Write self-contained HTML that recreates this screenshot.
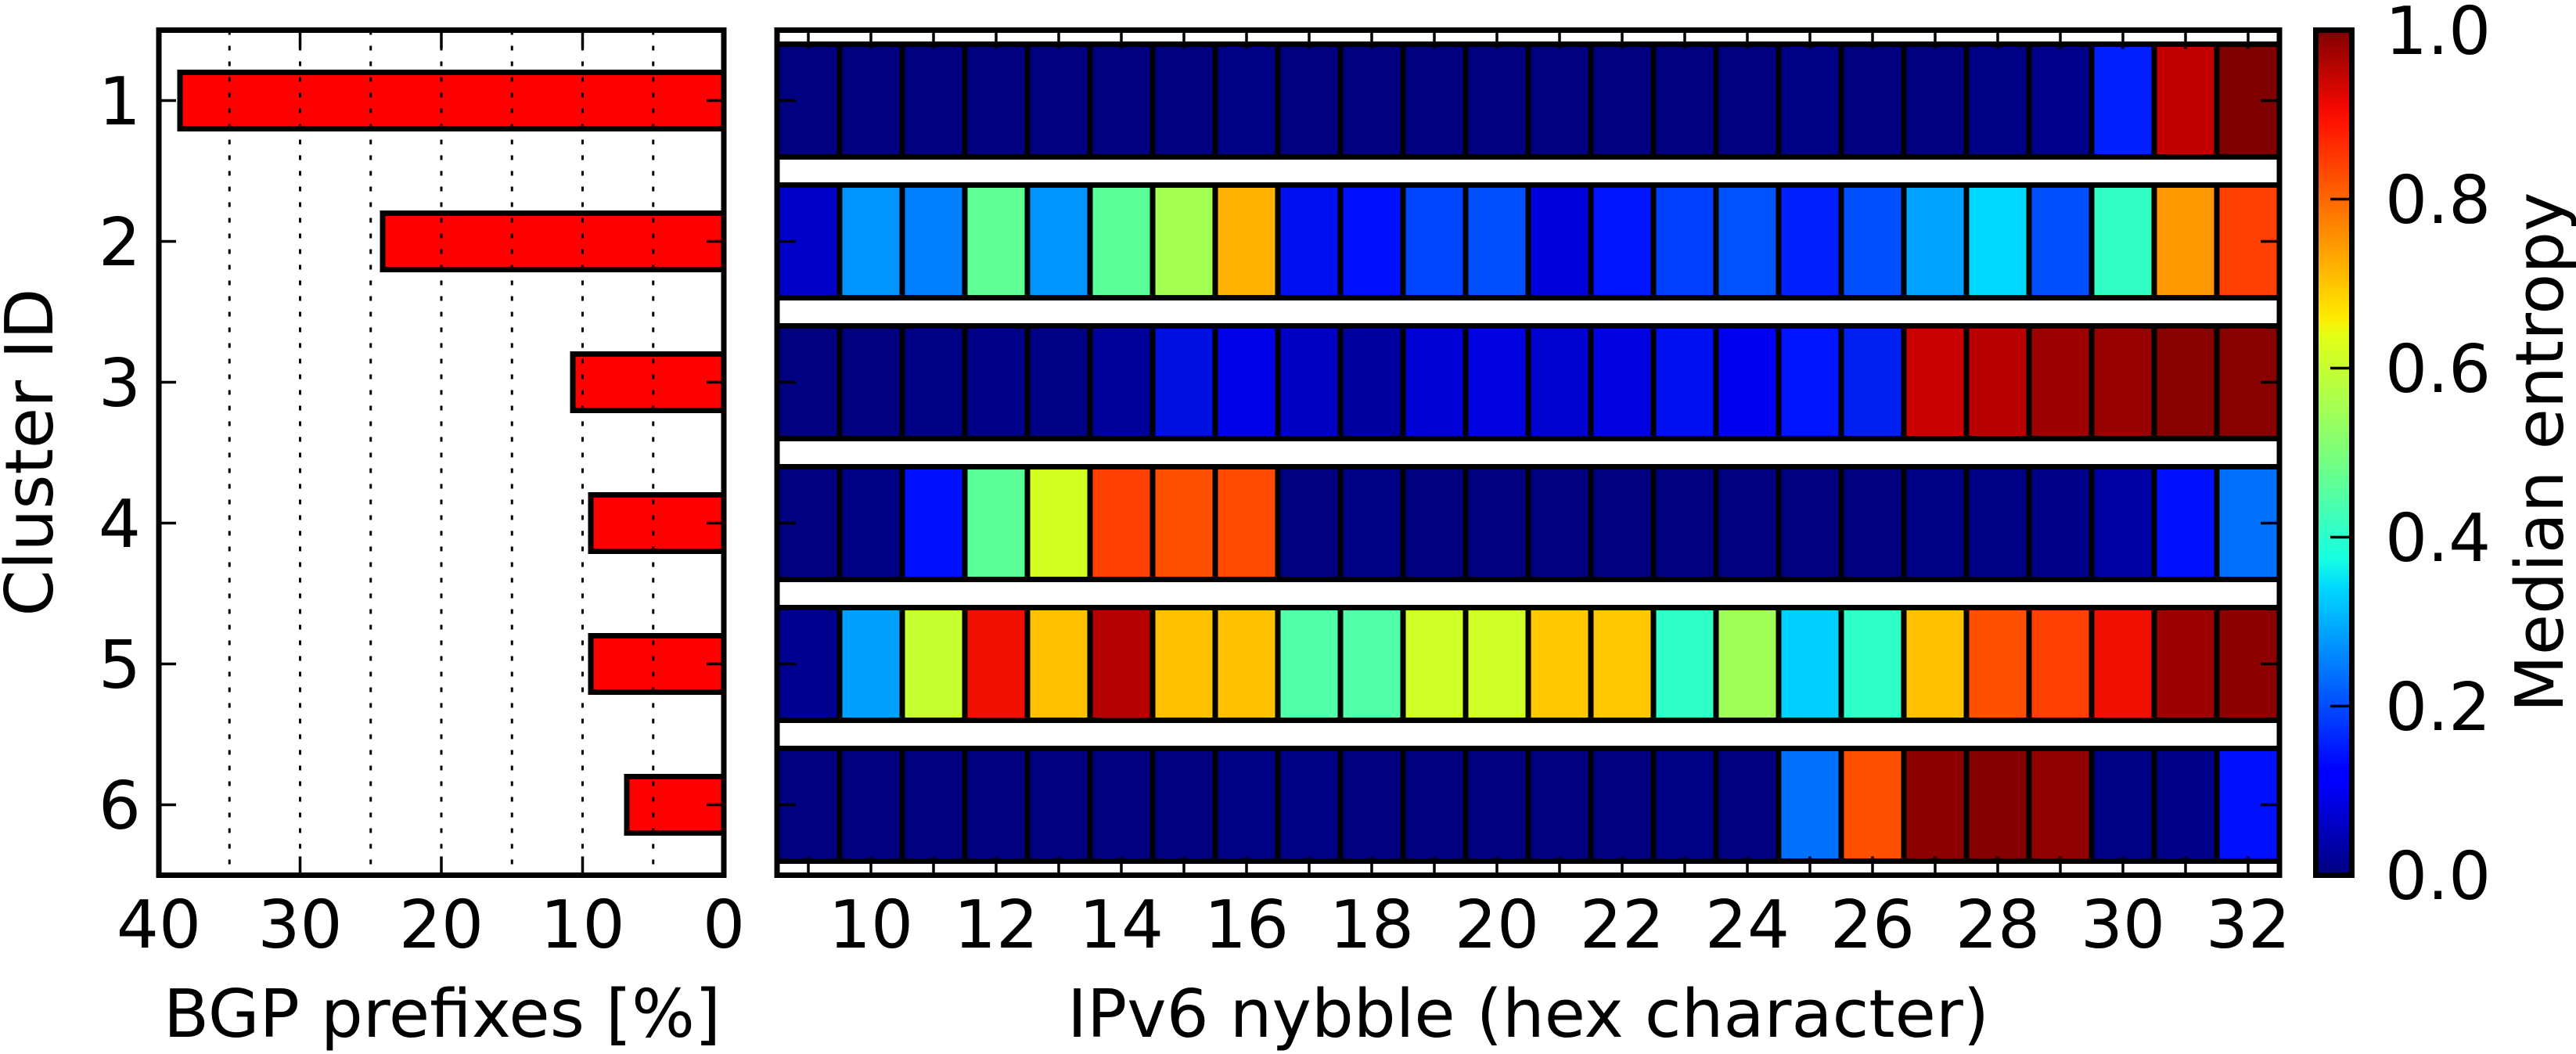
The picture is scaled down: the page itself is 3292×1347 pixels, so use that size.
<!DOCTYPE html>
<html><head><meta charset="utf-8"><style>html,body{margin:0;padding:0;background:#fff}svg{display:block}text{font-family:"DejaVu Sans","Liberation Sans",sans-serif;font-size:85px;fill:#000}</style></head><body>
<svg width="3292" height="1347" viewBox="0 0 3292 1347" xmlns="http://www.w3.org/2000/svg">
<defs>
<linearGradient id="jet" x1="0" y1="1" x2="0" y2="0">
<stop offset="0" stop-color="#00007f"/><stop offset="0.11" stop-color="#0000ff"/><stop offset="0.125" stop-color="#0000ff"/><stop offset="0.34" stop-color="#00d8ff"/><stop offset="0.375" stop-color="#16ffe1"/><stop offset="0.5" stop-color="#7dff7a"/><stop offset="0.64" stop-color="#e4ff13"/><stop offset="0.66" stop-color="#ffea00"/><stop offset="0.89" stop-color="#ff1300"/><stop offset="0.91" stop-color="#f10800"/><stop offset="1" stop-color="#7f0000"/>
</linearGradient>
</defs>
<g stroke="#000" stroke-width="7" fill="#ff0000">
<rect x="230" y="92.5" width="695" height="72"/>
<rect x="489" y="272.5" width="436" height="72"/>
<rect x="732" y="452.5" width="193" height="72"/>
<rect x="755" y="632.5" width="170" height="72"/>
<rect x="755" y="812.5" width="170" height="72"/>
<rect x="801" y="992.5" width="124" height="72"/>
</g>
<g stroke="#000" stroke-width="3" stroke-dasharray="6 14">
<line x1="834.75" y1="38.5" x2="834.75" y2="1118.5"/><line x1="744.5" y1="38.5" x2="744.5" y2="1118.5"/><line x1="654.25" y1="38.5" x2="654.25" y2="1118.5"/><line x1="564" y1="38.5" x2="564" y2="1118.5"/><line x1="473.75" y1="38.5" x2="473.75" y2="1118.5"/><line x1="383.5" y1="38.5" x2="383.5" y2="1118.5"/><line x1="293.25" y1="38.5" x2="293.25" y2="1118.5"/>
</g>
<g stroke="#000" stroke-width="3.5">
<path d="M203 128.5h22M203 308.5h22M203 488.5h22M203 668.5h22M203 848.5h22M203 1028.5h22M925 128.5h-22M925 308.5h-22M925 488.5h-22M925 668.5h-22M925 848.5h-22M925 1028.5h-22"/>
<path d="M383.5 38.5v24M564 38.5v24M744.5 38.5v24M383.5 1118.5v-24M564 1118.5v-24M744.5 1118.5v-24"/>
</g>
<rect x="203" y="38.5" width="722" height="1080" fill="none" stroke="#000" stroke-width="7"/>
<g text-anchor="end">
<text x="180" y="159">1</text><text x="180" y="339">2</text><text x="180" y="519">3</text><text x="180" y="699">4</text><text x="180" y="879">5</text><text x="180" y="1059">6</text>
</g>
<g text-anchor="middle">
<text x="203" y="1211">40</text><text x="383.5" y="1211">30</text><text x="564" y="1211">20</text><text x="744.5" y="1211">10</text><text x="925" y="1211">0</text>
<text x="565" y="1325">BGP prefixes [%]</text>
<text transform="translate(67,578) rotate(-90)">Cluster ID</text>
</g>
<g stroke="#000" stroke-width="7">
<g transform="translate(0,56.5)">
<rect x="993" width="80" height="144" fill="#000080"/><rect x="1073" width="80" height="144" fill="#000080"/><rect x="1153" width="80" height="144" fill="#000080"/><rect x="1233" width="80" height="144" fill="#000080"/><rect x="1313" width="80" height="144" fill="#000080"/><rect x="1393" width="80" height="144" fill="#000080"/><rect x="1473" width="80" height="144" fill="#000080"/><rect x="1553" width="80" height="144" fill="#000084"/><rect x="1633" width="80" height="144" fill="#000080"/><rect x="1713" width="80" height="144" fill="#000080"/><rect x="1793" width="80" height="144" fill="#000080"/><rect x="1873" width="80" height="144" fill="#000080"/><rect x="1953" width="80" height="144" fill="#000080"/><rect x="2033" width="80" height="144" fill="#000080"/><rect x="2113" width="80" height="144" fill="#000080"/><rect x="2193" width="80" height="144" fill="#000080"/><rect x="2273" width="80" height="144" fill="#000084"/><rect x="2353" width="80" height="144" fill="#000080"/><rect x="2433" width="80" height="144" fill="#000080"/><rect x="2513" width="80" height="144" fill="#000084"/><rect x="2593" width="80" height="144" fill="#00008a"/><rect x="2673" width="80" height="144" fill="#0020ff"/><rect x="2753" width="80" height="144" fill="#c00000"/><rect x="2833" width="80" height="144" fill="#800000"/>
</g>
<g transform="translate(0,236.5)">
<rect x="993" width="80" height="144" fill="#0000c8"/><rect x="1073" width="80" height="144" fill="#0094ff"/><rect x="1153" width="80" height="144" fill="#0080ff"/><rect x="1233" width="80" height="144" fill="#60ff96"/><rect x="1313" width="80" height="144" fill="#0094ff"/><rect x="1393" width="80" height="144" fill="#5aff9a"/><rect x="1473" width="80" height="144" fill="#a4ff53"/><rect x="1553" width="80" height="144" fill="#ffb000"/><rect x="1633" width="80" height="144" fill="#0010f0"/><rect x="1713" width="80" height="144" fill="#0010ff"/><rect x="1793" width="80" height="144" fill="#0044ff"/><rect x="1873" width="80" height="144" fill="#0050ff"/><rect x="1953" width="80" height="144" fill="#0000dd"/><rect x="2033" width="80" height="144" fill="#0014ff"/><rect x="2113" width="80" height="144" fill="#0040ff"/><rect x="2193" width="80" height="144" fill="#0054ff"/><rect x="2273" width="80" height="144" fill="#0020ff"/><rect x="2353" width="80" height="144" fill="#0050ff"/><rect x="2433" width="80" height="144" fill="#00a4ff"/><rect x="2513" width="80" height="144" fill="#00d8ff"/><rect x="2593" width="80" height="144" fill="#0050ff"/><rect x="2673" width="80" height="144" fill="#33ffc4"/><rect x="2753" width="80" height="144" fill="#ff9800"/><rect x="2833" width="80" height="144" fill="#ff4000"/>
</g>
<g transform="translate(0,416.5)">
<rect x="993" width="80" height="144" fill="#000080"/><rect x="1073" width="80" height="144" fill="#000080"/><rect x="1153" width="80" height="144" fill="#000084"/><rect x="1233" width="80" height="144" fill="#000088"/><rect x="1313" width="80" height="144" fill="#000084"/><rect x="1393" width="80" height="144" fill="#00009a"/><rect x="1473" width="80" height="144" fill="#0010e0"/><rect x="1553" width="80" height="144" fill="#0000e8"/><rect x="1633" width="80" height="144" fill="#0000c4"/><rect x="1713" width="80" height="144" fill="#0000a0"/><rect x="1793" width="80" height="144" fill="#0000d4"/><rect x="1873" width="80" height="144" fill="#0000e0"/><rect x="1953" width="80" height="144" fill="#0000d0"/><rect x="2033" width="80" height="144" fill="#0000e0"/><rect x="2113" width="80" height="144" fill="#0010f0"/><rect x="2193" width="80" height="144" fill="#0000f0"/><rect x="2273" width="80" height="144" fill="#0014ff"/><rect x="2353" width="80" height="144" fill="#0020f0"/><rect x="2433" width="80" height="144" fill="#c80000"/><rect x="2513" width="80" height="144" fill="#b80000"/><rect x="2593" width="80" height="144" fill="#9c0000"/><rect x="2673" width="80" height="144" fill="#960000"/><rect x="2753" width="80" height="144" fill="#880000"/><rect x="2833" width="80" height="144" fill="#880000"/>
</g>
<g transform="translate(0,596.5)">
<rect x="993" width="80" height="144" fill="#000080"/><rect x="1073" width="80" height="144" fill="#000084"/><rect x="1153" width="80" height="144" fill="#0010ff"/><rect x="1233" width="80" height="144" fill="#5aff9a"/><rect x="1313" width="80" height="144" fill="#d4ff22"/><rect x="1393" width="80" height="144" fill="#ff4000"/><rect x="1473" width="80" height="144" fill="#ff5000"/><rect x="1553" width="80" height="144" fill="#ff4a00"/><rect x="1633" width="80" height="144" fill="#000080"/><rect x="1713" width="80" height="144" fill="#000084"/><rect x="1793" width="80" height="144" fill="#000080"/><rect x="1873" width="80" height="144" fill="#000080"/><rect x="1953" width="80" height="144" fill="#000080"/><rect x="2033" width="80" height="144" fill="#000080"/><rect x="2113" width="80" height="144" fill="#000080"/><rect x="2193" width="80" height="144" fill="#000080"/><rect x="2273" width="80" height="144" fill="#000080"/><rect x="2353" width="80" height="144" fill="#000080"/><rect x="2433" width="80" height="144" fill="#000084"/><rect x="2513" width="80" height="144" fill="#000084"/><rect x="2593" width="80" height="144" fill="#000088"/><rect x="2673" width="80" height="144" fill="#0000a4"/><rect x="2753" width="80" height="144" fill="#0010ff"/><rect x="2833" width="80" height="144" fill="#0070ff"/>
</g>
<g transform="translate(0,776.5)">
<rect x="993" width="80" height="144" fill="#000090"/><rect x="1073" width="80" height="144" fill="#00a0ff"/><rect x="1153" width="80" height="144" fill="#c8ff30"/><rect x="1233" width="80" height="144" fill="#f01000"/><rect x="1313" width="80" height="144" fill="#ffc000"/><rect x="1393" width="80" height="144" fill="#b40000"/><rect x="1473" width="80" height="144" fill="#ffc000"/><rect x="1553" width="80" height="144" fill="#ffc000"/><rect x="1633" width="80" height="144" fill="#50ffa8"/><rect x="1713" width="80" height="144" fill="#50ffa8"/><rect x="1793" width="80" height="144" fill="#d0ff28"/><rect x="1873" width="80" height="144" fill="#d0ff28"/><rect x="1953" width="80" height="144" fill="#ffc800"/><rect x="2033" width="80" height="144" fill="#ffc800"/><rect x="2113" width="80" height="144" fill="#30ffc8"/><rect x="2193" width="80" height="144" fill="#a0ff56"/><rect x="2273" width="80" height="144" fill="#00d0ff"/><rect x="2353" width="80" height="144" fill="#30ffc8"/><rect x="2433" width="80" height="144" fill="#ffc000"/><rect x="2513" width="80" height="144" fill="#ff5000"/><rect x="2593" width="80" height="144" fill="#ff4000"/><rect x="2673" width="80" height="144" fill="#f01000"/><rect x="2753" width="80" height="144" fill="#9c0000"/><rect x="2833" width="80" height="144" fill="#8c0000"/>
</g>
<g transform="translate(0,956.5)">
<rect x="993" width="80" height="144" fill="#000080"/><rect x="1073" width="80" height="144" fill="#000080"/><rect x="1153" width="80" height="144" fill="#000080"/><rect x="1233" width="80" height="144" fill="#000080"/><rect x="1313" width="80" height="144" fill="#000080"/><rect x="1393" width="80" height="144" fill="#000080"/><rect x="1473" width="80" height="144" fill="#000080"/><rect x="1553" width="80" height="144" fill="#000084"/><rect x="1633" width="80" height="144" fill="#000084"/><rect x="1713" width="80" height="144" fill="#000080"/><rect x="1793" width="80" height="144" fill="#000080"/><rect x="1873" width="80" height="144" fill="#000080"/><rect x="1953" width="80" height="144" fill="#000080"/><rect x="2033" width="80" height="144" fill="#000080"/><rect x="2113" width="80" height="144" fill="#000084"/><rect x="2193" width="80" height="144" fill="#000080"/><rect x="2273" width="80" height="144" fill="#0070ff"/><rect x="2353" width="80" height="144" fill="#ff5000"/><rect x="2433" width="80" height="144" fill="#8c0000"/><rect x="2513" width="80" height="144" fill="#840000"/><rect x="2593" width="80" height="144" fill="#900000"/><rect x="2673" width="80" height="144" fill="#000084"/><rect x="2753" width="80" height="144" fill="#000088"/><rect x="2833" width="80" height="144" fill="#0010ff"/>
</g>
</g>
<g stroke="#000" stroke-width="3.5">
<path d="M1033 38.5v24M1113 38.5v24M1193 38.5v24M1273 38.5v24M1353 38.5v24M1433 38.5v24M1513 38.5v24M1593 38.5v24M1673 38.5v24M1753 38.5v24M1833 38.5v24M1913 38.5v24M1993 38.5v24M2073 38.5v24M2153 38.5v24M2233 38.5v24M2313 38.5v24M2393 38.5v24M2473 38.5v24M2553 38.5v24M2633 38.5v24M2713 38.5v24M2793 38.5v24M2873 38.5v24"/>
<path d="M1033 1118.5v-24M1113 1118.5v-24M1193 1118.5v-24M1273 1118.5v-24M1353 1118.5v-24M1433 1118.5v-24M1513 1118.5v-24M1593 1118.5v-24M1673 1118.5v-24M1753 1118.5v-24M1833 1118.5v-24M1913 1118.5v-24M1993 1118.5v-24M2073 1118.5v-24M2153 1118.5v-24M2233 1118.5v-24M2313 1118.5v-24M2393 1118.5v-24M2473 1118.5v-24M2553 1118.5v-24M2633 1118.5v-24M2713 1118.5v-24M2793 1118.5v-24M2873 1118.5v-24"/>
<path d="M993 128.5h24M993 308.5h24M993 488.5h24M993 668.5h24M993 848.5h24M993 1028.5h24M2913 128.5h-24M2913 308.5h-24M2913 488.5h-24M2913 668.5h-24M2913 848.5h-24M2913 1028.5h-24"/>
</g>
<rect x="993" y="38.5" width="1920" height="1080" fill="none" stroke="#000" stroke-width="7"/>
<g text-anchor="middle">
<text x="1113" y="1211">10</text><text x="1273" y="1211">12</text><text x="1433" y="1211">14</text><text x="1593" y="1211">16</text><text x="1753" y="1211">18</text><text x="1913" y="1211">20</text><text x="2073" y="1211">22</text><text x="2233" y="1211">24</text><text x="2393" y="1211">26</text><text x="2553" y="1211">28</text><text x="2713" y="1211">30</text><text x="2873" y="1211">32</text>
<text x="1953" y="1325">IPv6 nybble (hex character)</text>
<text transform="translate(3275,578) rotate(-90)">Median entropy</text>
</g>
<rect x="2959.5" y="38.5" width="46" height="1080" fill="url(#jet)" stroke="#000" stroke-width="7"/>
<g stroke="#000" stroke-width="3.5"><path d="M3002 902.5h-24M3002 686.5h-24M3002 470.5h-24M3002 254.5h-24"/></g>
<g>
<text x="3048" y="69">1.0</text><text x="3048" y="285">0.8</text><text x="3048" y="501">0.6</text><text x="3048" y="717">0.4</text><text x="3048" y="933">0.2</text><text x="3048" y="1149">0.0</text>
</g>
</svg>
</body></html>
